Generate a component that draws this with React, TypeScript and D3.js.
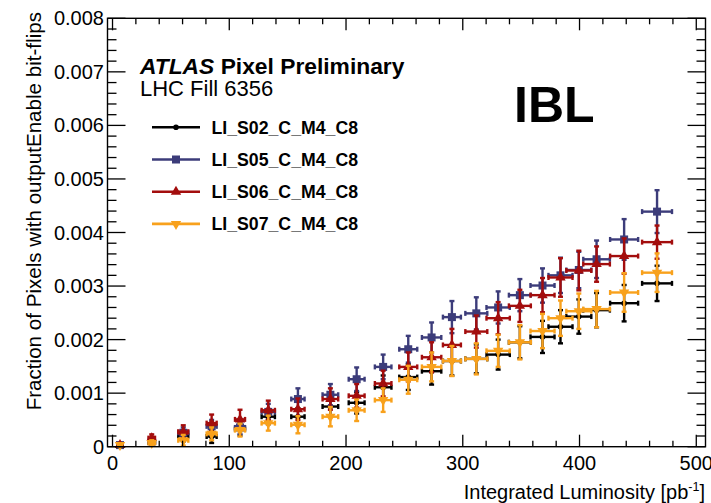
import React from "react";
import * as d3 from "d3";

// Integrated luminosity bins (pb^-1): centre and half-width
const lumi = [6.4, 33.6, 60.6, 84.9, 109.2, 133.4, 158.8, 186.6, 209.1, 231.8, 253.3, 273.3, 290.7, 311.6, 330.3, 348.9, 368.3, 383.7, 399.4, 414.6, 438.2, 466.4];
const lumiErr = [1.5, 2.8, 4.3, 4.3, 4.3, 5.7, 5.7, 6.7, 6.8, 7.1, 7.7, 8.3, 7.7, 9.4, 10, 9.4, 10.3, 10.3, 10.7, 11.4, 12, 12.8];

// Fraction of pixels with outputEnable bit-flips, per module
const s02 = [0.00002, 0.00008, 0.0002, 0.00019, 0.00033, 0.00056, 0.00056, 0.00075, 0.00082, 0.00111, 0.0013, 0.00141, 0.0016, 0.00164, 0.00172, 0.00195, 0.00205, 0.00224, 0.00243, 0.00255, 0.00268, 0.00305];
const s02Err = [0.00002, 0.00005, 0.0001, 0.00012, 0.00012, 0.00014, 0.00016, 0.00018, 0.0002, 0.00022, 0.00024, 0.00025, 0.00027, 0.00027, 0.00028, 0.0003, 0.0003, 0.00031, 0.00032, 0.00032, 0.00034, 0.00033];

const s05 = [0.00003, 0.0001, 0.00026, 0.00038, 0.00036, 0.00065, 0.00089, 0.00097, 0.00126, 0.00149, 0.00182, 0.00204, 0.00242, 0.00249, 0.0026, 0.00283, 0.00301, 0.0032, 0.0033, 0.0035, 0.00387, 0.00439];
const s05Err = [0.00003, 0.00006, 0.0001, 0.00012, 0.00012, 0.00015, 0.0002, 0.0002, 0.00022, 0.00023, 0.00025, 0.00028, 0.0003, 0.0003, 0.0003, 0.0003, 0.00032, 0.00033, 0.00034, 0.00035, 0.00038, 0.0004];

const s06 = [0.00003, 0.00016, 0.00028, 0.00044, 0.00051, 0.00068, 0.0007, 0.00089, 0.00095, 0.00118, 0.00149, 0.00167, 0.0019, 0.00215, 0.0024, 0.00263, 0.00283, 0.00316, 0.00329, 0.00341, 0.00356, 0.00382];
const s06Err = [0.00003, 0.00007, 0.00012, 0.00016, 0.00018, 0.00018, 0.0002, 0.0002, 0.00022, 0.00024, 0.00027, 0.00028, 0.0003, 0.0003, 0.0003, 0.0003, 0.00032, 0.00036, 0.00037, 0.00033, 0.00033, 0.00031];

const s07 = [0.00003, 0.00007, 0.00012, 0.00024, 0.00031, 0.00044, 0.00041, 0.00056, 0.00068, 0.00087, 0.00125, 0.00149, 0.0016, 0.00164, 0.00179, 0.00195, 0.00216, 0.0024, 0.00253, 0.00257, 0.00288, 0.00325];
const s07Err = [0.00003, 0.00005, 0.0001, 0.00012, 0.00012, 0.00014, 0.00016, 0.00018, 0.0002, 0.00022, 0.00026, 0.00027, 0.00028, 0.00029, 0.0003, 0.00032, 0.00032, 0.00033, 0.00033, 0.00034, 0.00036, 0.00036];

const seriesNames = ["LI_S02_C_M4_C8", "LI_S05_C_M4_C8", "LI_S06_C_M4_C8", "LI_S07_C_M4_C8"];
const seriesColors = ["#000000", "#3c3c7a", "#a30d0d", "#f8a11c"];
const seriesMarkers = ["circle", "square", "triangle", "triangleDown"];
const seriesValues = [s02, s05, s06, s07];
const seriesErrors = [s02Err, s05Err, s06Err, s07Err];

const xMajorTicks = [0, 100, 200, 300, 400, 500];
const yMajorTicks = [0, 0.001, 0.002, 0.003, 0.004, 0.005, 0.006, 0.007, 0.008];
const yTickLabels = ["0", "0.001", "0.002", "0.003", "0.004", "0.005", "0.006", "0.007", "0.008"];

const W = 711;
const H = 503;
const left = 107.5;
const right = 705.5;
const top = 18.3;
const bottom = 446.7;
const FONT = "'Liberation Sans', Arial, Helvetica, sans-serif";

const x = d3.scaleLinear().domain([-4.3, 507.9]).range([left, right]);
const y = d3.scaleLinear().domain([0, 0.008]).range([bottom, top]);

function Marker({ kind, cx, cy, color }: { kind: string; cx: number; cy: number; color: string }) {
  if (kind === "circle") return <circle cx={cx} cy={cy} r={2.8} fill={color} />;
  if (kind === "square") return <rect x={cx - 4} y={cy - 4} width={8} height={8} fill={color} />;
  const s = 4.6;
  const sym = d3.symbol().type(d3.symbolTriangle).size(s * s * 2.2)();
  const rot = kind === "triangleDown" ? 180 : 0;
  return <path d={sym || ""} transform={`translate(${cx},${cy}) rotate(${rot})`} fill={color} />;
}

export default function App() {
  const xMinor = d3.range(0, 501, 20).filter((v) => v % 100 !== 0);
  const yMinor = d3.range(0, 41).map((i) => i * 0.0002).filter((_, i) => i % 5 !== 0);
  const cap = 2.5;

  return (
    <svg width={W} height={H} style={{ position: "absolute", left: 0, top: 0, background: "#fff" }} fontFamily={FONT}>
      <rect x={0} y={0} width={W} height={H} fill="#fff" />

      {/* data points with error bars */}
      <g>
        {seriesValues.map((vals, si) => (
          <g key={si} stroke={seriesColors[si]} strokeWidth={2.4} fill="none">
            {vals.map((v, i) => {
              const cx = x(lumi[i]);
              const cy = y(v);
              const x0 = x(lumi[i] - lumiErr[i]);
              const x1 = x(lumi[i] + lumiErr[i]);
              const y0 = y(Math.max(0, v - seriesErrors[si][i]));
              const y1 = y(v + seriesErrors[si][i]);
              return (
                <g key={i}>
                  <line x1={x0} x2={x1} y1={cy} y2={cy} />
                  <line x1={cx} x2={cx} y1={y0} y2={y1} />
                  <line x1={x0} x2={x0} y1={cy - cap} y2={cy + cap} />
                  <line x1={x1} x2={x1} y1={cy - cap} y2={cy + cap} />
                  <line x1={cx - cap} x2={cx + cap} y1={y1} y2={y1} />
                  {v - seriesErrors[si][i] > 0 && <line x1={cx - cap} x2={cx + cap} y1={y0} y2={y0} />}
                  <g stroke="none">
                    <Marker kind={seriesMarkers[si]} cx={cx} cy={cy} color={seriesColors[si]} />
                  </g>
                </g>
              );
            })}
          </g>
        ))}
      </g>

      {/* frame */}
      <rect x={left} y={top} width={right - left} height={bottom - top} fill="none" stroke="#000" strokeWidth={1.4} />

      {/* ticks */}
      <g stroke="#000" strokeWidth={1.3}>
        {xMajorTicks.map((t) => (
          <g key={`xM${t}`}>
            <line x1={x(t)} x2={x(t)} y1={bottom} y2={bottom - 12} />
            <line x1={x(t)} x2={x(t)} y1={top} y2={top + 12} />
          </g>
        ))}
        {xMinor.map((t) => (
          <g key={`xm${t}`}>
            <line x1={x(t)} x2={x(t)} y1={bottom} y2={bottom - 6} />
            <line x1={x(t)} x2={x(t)} y1={top} y2={top + 6} />
          </g>
        ))}
        {yMajorTicks.map((t) => (
          <g key={`yM${t}`}>
            <line x1={left} x2={left + 18} y1={y(t)} y2={y(t)} />
            <line x1={right} x2={right - 18} y1={y(t)} y2={y(t)} />
          </g>
        ))}
        {yMinor.map((t) => (
          <g key={`ym${t}`}>
            <line x1={left} x2={left + 9} y1={y(t)} y2={y(t)} />
            <line x1={right} x2={right - 9} y1={y(t)} y2={y(t)} />
          </g>
        ))}
      </g>

      {/* tick labels */}
      <g fontSize={20} fill="#000">
        {xMajorTicks.map((t) => (
          <text key={`xl${t}`} x={x(t)} y={470} textAnchor="middle">
            {t}
          </text>
        ))}
        {yMajorTicks.map((t, i) => (
          <text key={`yl${t}`} x={104} y={y(t) + 7} textAnchor="end">
            {yTickLabels[i]}
          </text>
        ))}
      </g>

      {/* axis titles */}
      <text x={705} y={499} textAnchor="end" fontSize={20}>
        Integrated Luminosity [pb
        <tspan dy={-8} fontSize={12.5}>-1</tspan>
        <tspan dy={8}>]</tspan>
      </text>
      <text transform="translate(41,12) rotate(-90)" textAnchor="end" fontSize={20.6}>
        Fraction of Pixels with outputEnable bit-flips
      </text>

      {/* labels */}
      <text x={140} y={73.5} fontSize={22.8} fontWeight="bold">
        <tspan fontStyle="italic">ATLAS</tspan> Pixel Preliminary
      </text>
      <text x={140} y={95.5} fontSize={22}>
        LHC Fill 6356
      </text>
      <text x={514} y={122} fontSize={50} fontWeight="bold">
        IBL
      </text>

      {/* legend */}
      {seriesNames.map((name, i) => {
        const ly = 127.3 + i * 32.2;
        return (
          <g key={name}>
            <line x1={152} x2={200} y1={ly} y2={ly} stroke={seriesColors[i]} strokeWidth={2.6} />
            <Marker kind={seriesMarkers[i]} cx={176} cy={ly} color={seriesColors[i]} />
            <text x={211.5} y={ly + 6.5} fontSize={17.7} fontWeight="bold">
              {name}
            </text>
          </g>
        );
      })}
    </svg>
  );
}
